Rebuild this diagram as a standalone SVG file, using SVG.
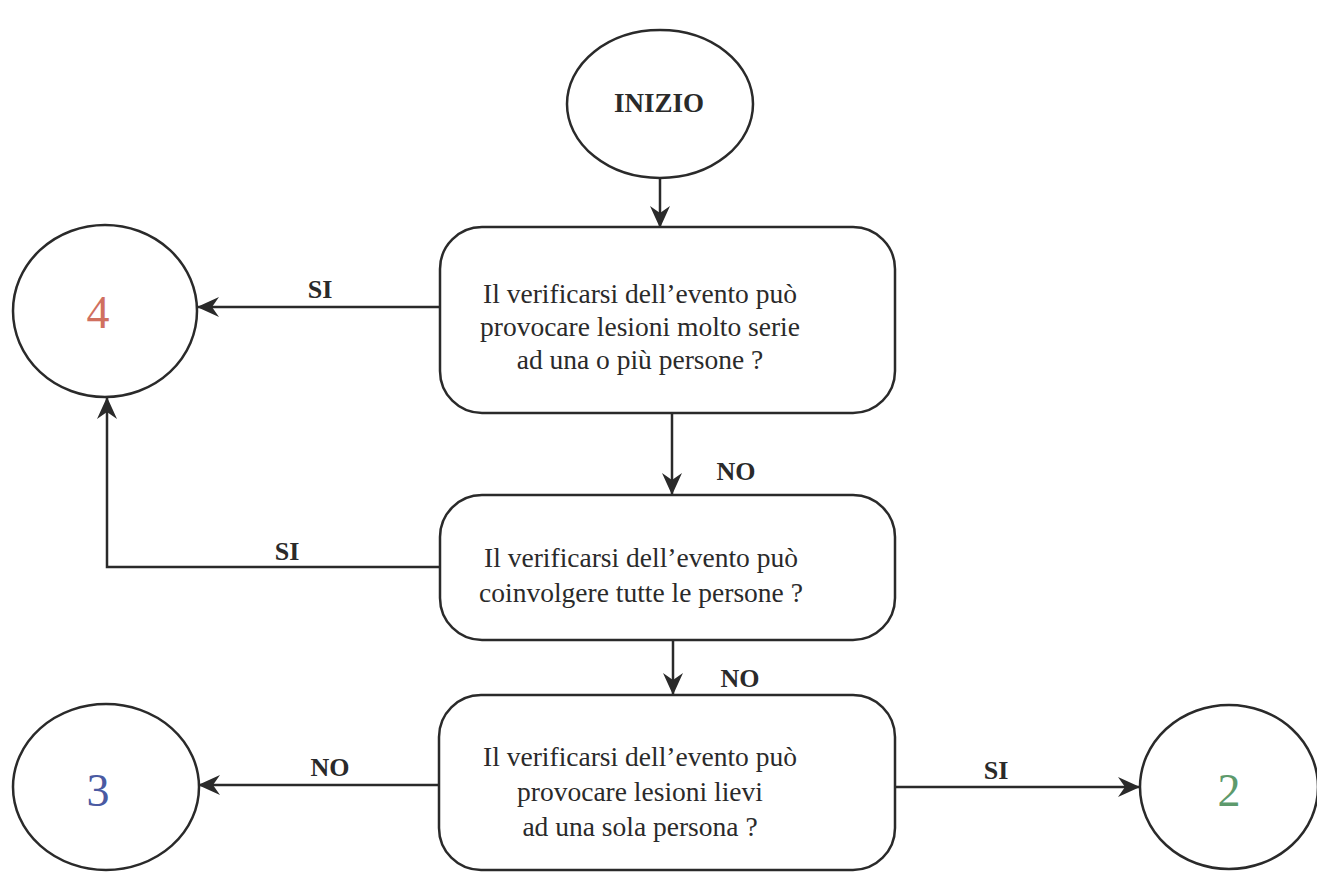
<svg xmlns="http://www.w3.org/2000/svg" width="1317" height="875" viewBox="0 0 1317 875">
<style>
.shape{fill:none;stroke:#2a2a2a;stroke-width:2.5}
.conn{fill:none;stroke:#2a2a2a;stroke-width:2.5}
.txt{font-family:'Liberation Serif','Times New Roman',serif;font-size:27.5px;fill:#2a2a2a;text-anchor:middle}
.lbl{font-family:'Liberation Serif','Times New Roman',serif;font-size:26px;font-weight:bold;fill:#2a2a2a;text-anchor:middle}
.num{font-family:'Liberation Serif','Times New Roman',serif;font-size:46px;text-anchor:middle}
</style>
<defs>
<marker id="arr" viewBox="0 0 22 22" refX="21" refY="11" markerWidth="22" markerHeight="22" markerUnits="userSpaceOnUse" orient="auto">
<path d="M0,1 L22,11 L0,21 L7,11 z" fill="#2a2a2a"/>
</marker>
</defs>
<rect width="1317" height="875" fill="#ffffff"/>
<g id="connectors">
<line class="conn" x1="660" y1="178" x2="660" y2="227" marker-end="url(#arr)"/>
<line class="conn" x1="440" y1="307" x2="198" y2="307" marker-end="url(#arr)"/>
<line class="conn" x1="672" y1="413" x2="672" y2="494" marker-end="url(#arr)"/>
<polyline class="conn" points="440,567 107,567 107,398" marker-end="url(#arr)"/>
<line class="conn" x1="673" y1="640" x2="673" y2="694" marker-end="url(#arr)"/>
<line class="conn" x1="440" y1="785" x2="199" y2="785" marker-end="url(#arr)"/>
<line class="conn" x1="895" y1="787" x2="1139" y2="787" marker-end="url(#arr)"/>
<text class="lbl" x="320" y="298">SI</text>
<text class="lbl" x="287" y="560">SI</text>
<text class="lbl" x="736" y="480">NO</text>
<text class="lbl" x="740" y="687">NO</text>
<text class="lbl" x="330" y="776">NO</text>
<text class="lbl" x="996" y="779">SI</text>
</g>
<g id="start">
<ellipse class="shape" cx="660" cy="104" rx="93" ry="74"/>
<text class="lbl" x="659" y="112" style="font-size:27px">INIZIO</text>
</g>
<g id="q1">
<rect class="shape" x="440" y="227" width="455" height="186" rx="42" ry="42"/>
<text class="txt" x="640" y="303">Il verificarsi dell’evento può</text>
<text class="txt" x="640" y="336">provocare lesioni molto serie</text>
<text class="txt" x="640" y="369">ad una o più persone ?</text>
</g>
<g id="q2">
<rect class="shape" x="440" y="495" width="455" height="145" rx="42" ry="42"/>
<text class="txt" x="641" y="567">Il verificarsi dell’evento può</text>
<text class="txt" x="641" y="602">coinvolgere tutte le persone ?</text>
</g>
<g id="q3">
<rect class="shape" x="439" y="695" width="456" height="175" rx="42" ry="42"/>
<text class="txt" x="640" y="766">Il verificarsi dell’evento può</text>
<text class="txt" x="640" y="801">provocare lesioni lievi</text>
<text class="txt" x="640" y="836">ad una sola persona ?</text>
</g>
<g id="r4">
<ellipse class="shape" cx="105" cy="311" rx="92" ry="86"/>
<text class="num" x="98" y="328" fill="#d0705f">4</text>
</g>
<g id="r3">
<ellipse class="shape" cx="106" cy="787" rx="93" ry="83"/>
<text class="num" x="98" y="806" fill="#4a5aa2">3</text>
</g>
<g id="r2">
<ellipse class="shape" cx="1229" cy="787" rx="89" ry="82"/>
<text class="num" x="1229" y="806" fill="#5d9a6c">2</text>
</g>
</svg>
